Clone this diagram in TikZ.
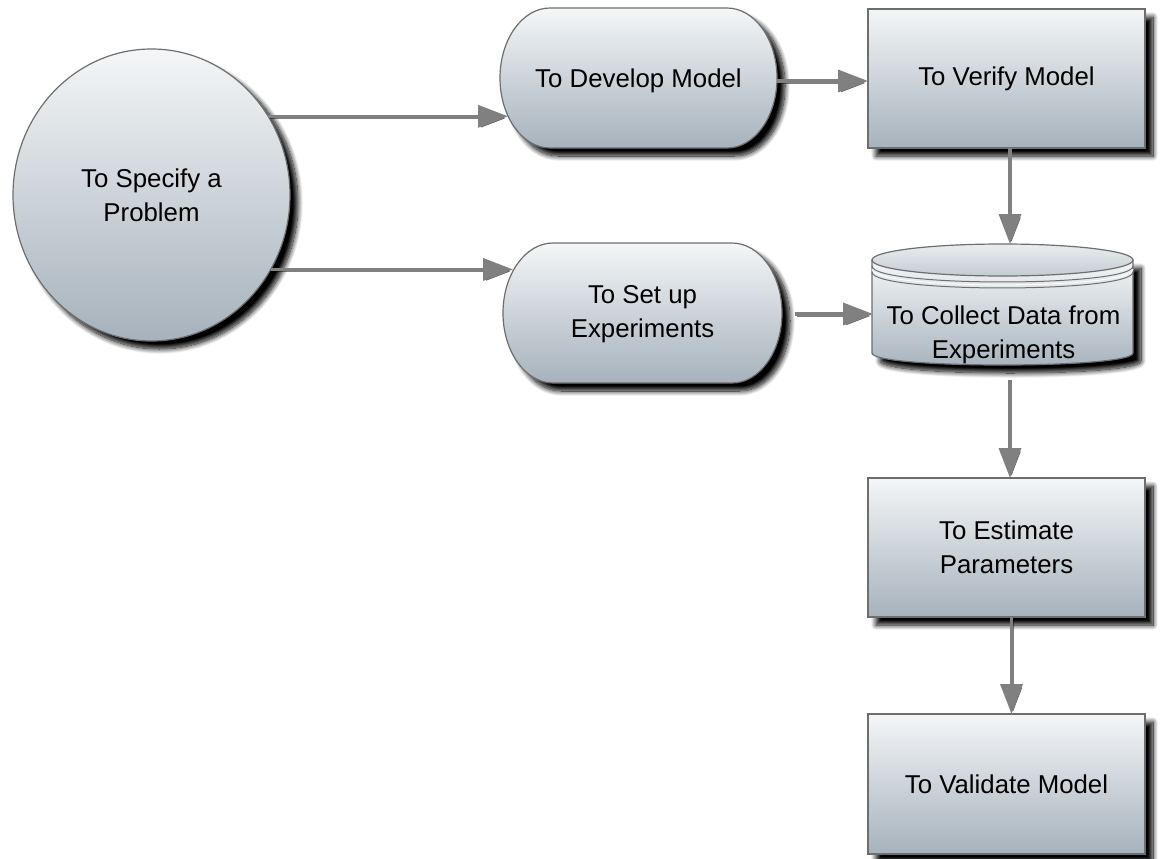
\documentclass[tikz,border=0pt]{standalone}
\usepackage{fontspec}
\setmainfont{Liberation Sans}
\usetikzlibrary{shapes.geometric,arrows.meta,shadows.blur,calc}
\definecolor{topc}{HTML}{F4F6F7}
\definecolor{botc}{HTML}{A6B2BC}
\definecolor{edgec}{HTML}{6E6E6E}
\definecolor{arrc}{HTML}{808080}
\definecolor{captop}{HTML}{E9EDEF}
\definecolor{capbot}{HTML}{C3CCD3}
\tikzset{
  shadowed/.style={blur shadow={shadow xshift=8pt, shadow yshift=-8pt, shadow blur radius=5pt, shadow blur steps=12, shadow opacity=100}},
  shapefill/.style={draw=edgec, line width=1.2pt, top color=topc, bottom color=botc, shadowed},
  box/.style={shapefill, inner sep=0pt, outer sep=0pt, align=center, font=\fontsize{25.8}{34}\selectfont},
  txt/.style={inner sep=0pt, outer sep=0pt, align=center, font=\fontsize{25.8}{34}\selectfont},
  arr/.style={draw=arrc, line width=3.5pt, -{Triangle[length=30pt,width=22pt]},
    preaction={draw=black, opacity=.5, transform canvas={shift={(1.5pt,-2pt)}}}}
}
\begin{document}
\begin{tikzpicture}[x=1pt,y=-1pt]
\useasboundingbox (0,0) rectangle (1160,859);

% circle
\node[box, ellipse, minimum width=277pt, minimum height=292pt] (circ) at (151.5,195) {To Specify a\\Problem};

% stadium: To Develop Model
\path[shapefill] (550,8) -- (727,8) .. controls (754.6,8) and (777,39.3) .. (777,78)
  .. controls (777,116.7) and (754.6,148) .. (727,148) -- (550,148)
  .. controls (522.4,148) and (500,116.7) .. (500,78)
  .. controls (500,39.3) and (522.4,8) .. (550,8) -- cycle;
\node[txt, minimum width=277pt, minimum height=134pt] (dev) at (638.5,81) {To Develop Model};
\coordinate (devW) at (508,116);

% stadium: To Set up Experiments
\path[shapefill] (553,243) -- (732,243) .. controls (759.6,243) and (782,274.3) .. (782,313)
  .. controls (782,351.7) and (759.6,383) .. (732,383) -- (553,383)
  .. controls (525.4,383) and (503,351.7) .. (503,313)
  .. controls (503,274.3) and (525.4,243) .. (553,243) -- cycle;
\node[txt, minimum width=279pt, minimum height=136pt] (set) at (642.5,314) {To Set up\\Experiments};
\coordinate (setW) at (513,270);

% rectangles
\node[box, rectangle, minimum width=277pt, minimum height=139pt] (ver) at (1006.5,78.5) {To Verify Model};
\node[box, rectangle, minimum width=277pt, minimum height=139pt] (est) at (1006.5,547.5) {To Estimate\\Parameters};
\node[box, rectangle, minimum width=277pt, minimum height=140pt] (val) at (1006.5,784) {To Validate Model};

% cylinder
\path[shapefill] (872,260) -- (872,353) .. controls (872,369) and (1133,369) .. (1133,353) -- (1133,260) -- cycle;
\path[draw=edgec, line width=1.2pt, top color=captop, bottom color=capbot] (1002.5,260) ellipse [x radius=130.5, y radius=16];
\draw[white, line width=0.8pt] (872,269) .. controls (872,290.3) and (1133,290.3) .. (1133,269);
\draw[edgec, line width=1pt] (872,266) .. controls (872,287.3) and (1133,287.3) .. (1133,266);
\draw[edgec, line width=1pt] (872,272) .. controls (872,293.3) and (1133,293.3) .. (1133,272);
\node[txt, minimum width=261pt, minimum height=60pt] (coll) at (1003.5,335) {To Collect Data from\\Experiments};
\coordinate (collTop) at (1010,244);

% connectors
\draw[arr] (circ.34) -- (circ.34 -| devW);
\draw[arr] (circ.-32.2) -- (circ.-32.2 -| setW);
\draw[arr] (dev.east) -- (dev.east -| ver.west);
\draw[arr] ([xshift=13pt]set.east) -- (set.east -| coll.west);
\draw[arr] ([xshift=3.5pt]ver.south) -- (collTop);
\draw[arr] ([xshift=6.5pt,yshift=-15pt]coll.south) -- ([xshift=3.5pt]est.north);
\draw[arr] ([xshift=5pt]est.south) -- ([xshift=5pt]val.north);
\end{tikzpicture}
\end{document}
